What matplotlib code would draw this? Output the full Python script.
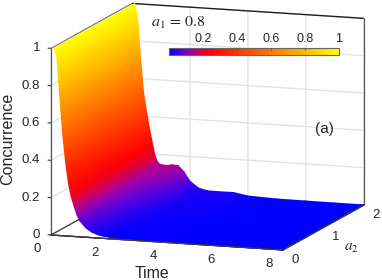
import numpy as np
import matplotlib
matplotlib.use("Agg")
import matplotlib.pyplot as plt
from matplotlib.cm import ScalarMappable
from matplotlib.colors import LinearSegmentedColormap, Normalize
from mpl_toolkits.mplot3d import proj3d

plt.rcParams["font.family"] = ["Liberation Sans", "DejaVu Sans"]
plt.rcParams["mathtext.fontset"] = "stix"

time = [0.1, 0.2, 0.3, 0.4, 0.5, 0.6, 0.7, 0.8, 0.9, 1.0, 1.2, 1.4, 1.6, 1.8,
        2.0, 2.3, 2.6, 3.0, 3.5, 4.0, 5.0, 6.0, 7.0, 8.0]
a2 = [0.0, 0.5, 1.0, 1.5, 2.0]
conc_a2_00 = [1.0, .96, .75, .55, .40, .285, .21, .16, .115, .085, .05, .03, .018, .012,
              .008, .005, .004, .003, .002, .002, .001, .001, 0, 0]
conc_a2_05 = [1.0, .95, .74, .54, .41, .30, .22, .17, .125, .10, .065, .045, .03, .02,
              .013, .008, .006, .005, .004, .003, .001, .001, 0, 0]
conc_a2_10 = [1.0, .94, .73, .53, .42, .31, .235, .175, .135, .115, .085, .065, .05, .035,
              .025, .014, .01, .008, .007, .005, .002, .001, 0, 0]
conc_a2_15 = [1.0, .93, .72, .53, .42, .33, .25, .185, .145, .13, .115, .10, .085, .065,
              .045, .022, .015, .014, .014, .007, .002, .001, 0, 0]
conc_a2_20 = [1.0, .92, .71, .53, .43, .34, .26, .19, .155, .146, .144, .149, .146, .115,
              .068, .033, .022, .021, .022, .008, .002, .001, 0, 0]
x_ticks = [0, 2, 4, 6, 8]
y_ticks = [0, 1, 2]
z_ticks = [0, 0.2, 0.4, 0.6, 0.8, 1]
z_labels = ["0", "0.2", "0.4", "0.6", "0.8", "1"]
cbar_ticks = [0.2, 0.4, 0.6, 0.8, 1.0]
cbar_labels = ["0.2", "0.4", "0.6", "0.8", "1"]

cmap = LinearSegmentedColormap.from_list("conc", [
    (0.0, (0, 0, 1)), (0.08, (0.38, 0, 0.87)), (0.14, (0.68, 0, 0.62)),
    (0.2, (0.92, 0, 0.15)), (0.25, (1, 0, 0)), (1.0, (1, 1, 0))], N=512)
norm = Normalize(0, 1)
ink = "#262626"
frame = "#3c3c3c"

fig = plt.figure(figsize=(3.82, 2.80), dpi=100)
ax = fig.add_axes([0.1, 0.1, 0.8 * 2.8 / 3.82, 0.8], projection="3d", proj_type="ortho")
ax.view_init(elev=10.9, azim=-71.2)
ax.set_box_aspect((245, 251, 190))
ax.set_xlim(0, 8, view_margin=0)
ax.set_ylim(0, 2, view_margin=0)
ax.set_zlim(0, 1, view_margin=0)
ax.set_xticks(x_ticks)
ax.set_yticks(y_ticks)
ax.set_zticks(z_ticks)
ax.set_xticklabels([])
ax.set_yticklabels([])
ax.set_zticklabels([])
ax.zaxis._axinfo["juggled"] = (1, 0, 2)
for axis in (ax.xaxis, ax.yaxis, ax.zaxis):
    axis.set_pane_color((1, 1, 1, 1))
    axis.pane.set_edgecolor("white")
    axis.line.set_color(frame)
    axis.line.set_linewidth(0.9)
    axis._axinfo["grid"].update(color="#e2e2e2", linewidth=1.0)
    axis._axinfo["tick"].update(inward_factor=0.0, outward_factor=0.15)
ax.tick_params(color=frame)


def to_px(x, y, z):
    x, y, z = np.asarray(x, float), np.asarray(y, float), np.asarray(z, float)
    xs, ys, _ = proj3d.proj_transform(x.ravel(), y.ravel(), z.ravel(), ax.get_proj())
    pts = ax.transData.transform(np.column_stack([xs, ys]))
    return pts[:, 0].reshape(x.shape), 280 - pts[:, 1].reshape(x.shape)


# fit the 3d box onto the figure: origin at (51, 235), t=8 edge 232 px wide
fig.canvas.draw()
x0, y0 = to_px([0.0], [0.0], [0.0])
x1, y1 = to_px([8.0], [0.0], [0.0])
scale = 232 / (x1[0] - x0[0])
pos = ax.get_position()
w = pos.width * 382 * scale
h = pos.height * 280 * scale
cx = (pos.x0 + pos.width / 2) * 382
cy = 280 - (pos.y0 + pos.height / 2) * 280
new_cx = 51 + (cx - x0[0]) * scale
new_cy = 235 + (cy - y0[0]) * scale
ax.set_position([(new_cx - w / 2) / 382, (280 - new_cy - h / 2) / 280, w / 382, h / 280])
fig.canvas.draw()

# surface, back rows first so nearer ones paint over them
conc = np.array([conc_a2_20, conc_a2_15, conc_a2_10, conc_a2_05, conc_a2_00])
T, A = np.meshgrid(time, a2[::-1])
PX, PY = to_px(T, A, conc)

over = fig.add_axes([0, 0, 1, 1])
over.set_xlim(0, 382)
over.set_ylim(280, 0)
over.axis("off")
over.patch.set_alpha(0)


def edge(p, q, lw=0.9, color=frame, zorder=1):
    px, py = to_px([p[0], q[0]], [p[1], q[1]], [p[2], q[2]])
    over.plot(px, py, color=color, lw=lw, zorder=zorder, solid_capstyle="butt")


# box edges go on top of the grid, the grid would hide them otherwise
edge((0, 2, 1), (8, 2, 1), lw=1.0, color="#202020")
edge((8, 2, 0), (8, 2, 1), color="#555555")
edge((0, 0, 1), (0, 2, 1), lw=0.8, color="#777777")
edge((0, 0, 0), (0, 0, 1), color="#555555")
edge((0, 0, 0), (0, 2, 0))
over.pcolormesh(PX, PY, conc, shading="gouraud", cmap=cmap, norm=norm, zorder=2)
edge((0, 0, 0), (8, 0, 0), zorder=3)
edge((8, 0, 0), (8, 2, 0), zorder=3)

# tick labels sit at the projected tick plus a fixed pixel offset
for t in x_ticks:
    px, py = to_px([t], [0], [0])
    over.text(px[0] - 14, py[0] + 14, str(t), fontsize=9.5, color=ink, ha="center", va="center")
for v in y_ticks:
    px, py = to_px([8], [v], [0])
    over.text(px[0] + 12, py[0] + 10, str(v), fontsize=9.5, color=ink, ha="center", va="center")
for v, lab in zip(z_ticks, z_labels):
    px, py = to_px([0], [0], [v])
    over.text(px[0] - 11, py[0], lab, fontsize=9.5, color=ink, ha="right", va="center")

over.text(152, 273, "Time", fontsize=11.4, color=ink, ha="center", va="center")
over.text(8, 139, "Concurrence", fontsize=11.6, color=ink, rotation=90, ha="center", va="center")
over.text(351, 248, r"$a_2$", fontsize=11, color=ink, ha="center", va="center")
over.text(324, 129, "(a)", fontsize=11, color=ink, ha="center", va="center")
over.text(178, 23, r"$a_1\,=\,0.8$", fontsize=11.5, color=ink, ha="center", va="center")

cax = fig.add_axes([169 / 382, 1 - 55 / 280, 170 / 382, 7 / 280])
cb = fig.colorbar(ScalarMappable(norm=norm, cmap=cmap), cax=cax, orientation="horizontal")
cb.set_ticks(cbar_ticks, labels=cbar_labels)
cb.outline.set_edgecolor("#666666")
cb.outline.set_linewidth(0.8)
cax.xaxis.set_ticks_position("top")
cax.tick_params(direction="in", length=1.5, width=0.5, color="#444444", labelsize=9,
                labelcolor=ink, pad=2.5)

fig.savefig("out.png", dpi=100)
